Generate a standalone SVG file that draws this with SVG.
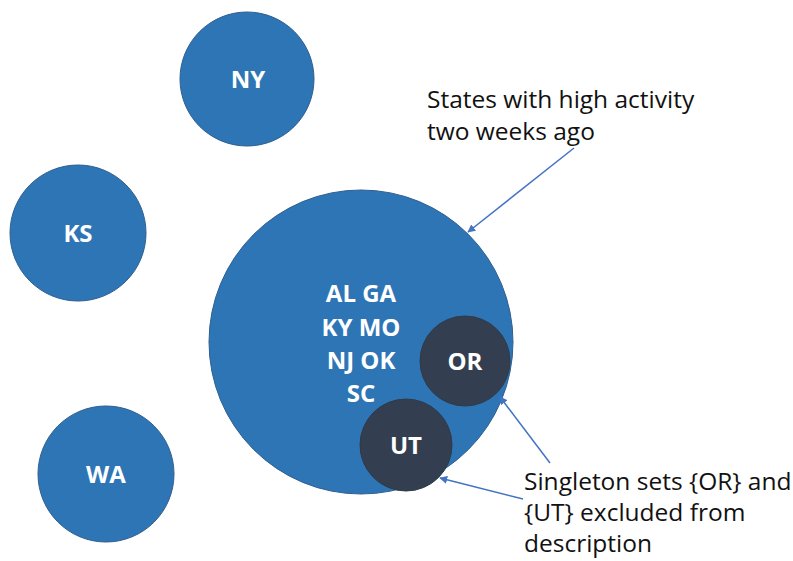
<svg xmlns="http://www.w3.org/2000/svg" width="793" height="561" viewBox="0 0 793 561">
<defs>
<marker id="ah" viewBox="0 0 10 10" refX="9" refY="5" markerWidth="8" markerHeight="8" orient="auto" markerUnits="userSpaceOnUse">
<path d="M0,0 L10,5 L0,10 z" fill="#4472C4"/>
</marker>
<style>
.c{fill:#2E75B6;stroke:#2F5F8F;stroke-width:1}
.d{fill:#333F50;stroke:#2F3A48;stroke-width:1}
.l{font-family:"Open Sans","Liberation Sans",sans-serif;font-weight:bold;font-size:24px;fill:#fff;text-anchor:middle}
.t{font-family:"Open Sans","Liberation Sans",sans-serif;font-size:24.5px;fill:#111}
.a{stroke:#4472C4;stroke-width:1.5;fill:none;marker-end:url(#ah)}
</style>
</defs>
<rect width="793" height="561" fill="#fff"/>
<g id="NY"><circle class="c" cx="247" cy="79" r="67"/><text class="l" x="248" y="88">NY</text></g>
<g id="KS"><circle class="c" cx="78" cy="233" r="68"/><text class="l" x="78" y="242">KS</text></g>
<g id="WA"><circle class="c" cx="106" cy="474" r="68"/><text class="l" x="106" y="483">WA</text></g>
<g id="big"><circle class="c" cx="361" cy="342" r="152"/>
<text class="l" x="361" y="302">AL GA</text>
<text class="l" x="361" y="336">KY MO</text>
<text class="l" x="361" y="369">NJ OK</text>
<text class="l" x="361" y="402">SC</text></g>
<g id="OR"><circle class="d" cx="465" cy="361" r="45"/><text class="l" x="465" y="370">OR</text></g>
<g id="UT"><circle class="d" cx="406" cy="445" r="46"/><text class="l" x="406" y="454">UT</text></g>
<g id="connectors">
<line class="a" x1="574" y1="148" x2="468" y2="232"/>
<line class="a" x1="550" y1="463" x2="500" y2="397"/>
<line class="a" x1="523" y1="499" x2="440" y2="478"/>
</g>
<g id="labels">
<text class="t" x="427" y="108">States with high activity</text>
<text class="t" x="427" y="140">two weeks ago</text>
<text class="t" x="524" y="490">Singleton sets {OR} and</text>
<text class="t" x="524" y="521">{UT} excluded from</text>
<text class="t" x="524" y="552">description</text>
</g>
</svg>
